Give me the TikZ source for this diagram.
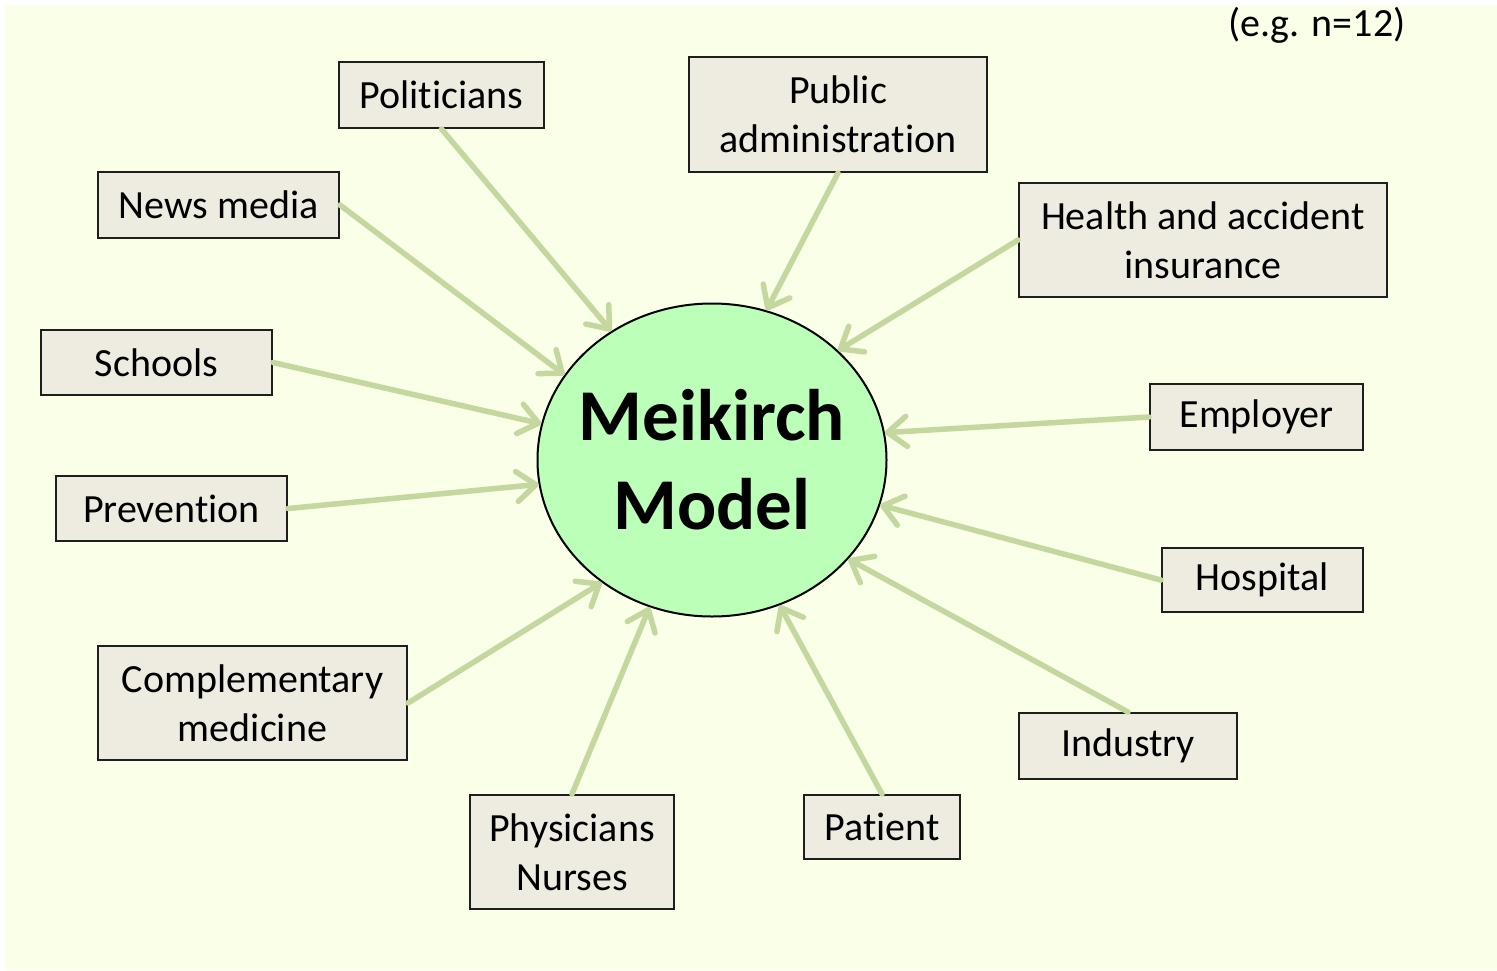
\documentclass[tikz,border=0pt]{standalone}
\usepackage{fontspec}
\setmainfont{Carlito}[Ligatures=CommonOff]
\definecolor{paper}{RGB}{250, 255, 232}
\definecolor{boxfill}{RGB}{238, 236, 225}
\definecolor{boxline}{RGB}{30, 30, 30}
\definecolor{linkgreen}{RGB}{196, 215, 158}
\definecolor{corefill}{RGB}{188, 255, 184}
\usetikzlibrary{shapes.geometric, arrows.meta, positioning, calc}

\begin{document}
\begin{tikzpicture}[x=1pt, y=-1pt,
    actor/.style={draw=boxline, line width=2pt, fill=boxfill, align=center,
      inner sep=0pt, font=\fontsize{40}{49}\selectfont},
    link/.style={linkgreen, line width=5.5pt, line cap=round,
      -{Straight Barb[length=19pt, width=30pt, round]}}]
        % Background
        \useasboundingbox (0,0) rectangle (1497,970);
        \fill[paper] (5,5) rectangle (1497,970);
        \node[font=\fontsize{40}{49}\selectfont] (note) at (1317,25) {(e.g. n=12)};

        % Centre
        \node[ellipse, draw, line width=2pt, fill=corefill, inner sep=0pt,
          minimum width=349, minimum height=313] (core) at (712,460) {};
        \node[align=center, font=\fontsize{73}{89}\selectfont\bfseries] (title) at (core) {Meikirch\\Model};

        % Actors, left side
        \node[actor, minimum width=205, minimum height=66] (pol) at (441.5,95) {Politicians};
        \node[actor, minimum width=241, minimum height=66] (news) at (218.5,205) {News media};
        \node[actor, minimum width=231, minimum height=65] (school) at (156.5,362.5) {Schools};
        \node[actor, minimum width=231, minimum height=65] (prev) at (171.5,508.5) {Prevention};
        \node[actor, minimum width=309, minimum height=114] (comp) at (252.5,703) {Complementary\\medicine};
        \node[actor, minimum width=204, minimum height=114] (phys) at (572,852) {Physicians\\Nurses};

        % Actors, right side
        \node[actor, minimum width=298, minimum height=115] (admin) at (838,114.5) {Public\\administration};
        \node[actor, minimum width=368, minimum height=114] (ins) at (1203,240) {Health and accident\\insurance};
        \node[actor, minimum width=213, minimum height=66] (empl) at (1256.5,417) {Employer};
        \node[actor, minimum width=201, minimum height=64] (hosp) at (1262.5,580) {Hospital};
        \node[actor, minimum width=218, minimum height=66] (ind) at (1128,746) {Industry};
        \node[actor, minimum width=156, minimum height=64] (pat) at (882,827) {Patient};

        % Arrows into the model
        \foreach \from/\ang in {pol.south/128, news.east/150, school.east/168,
          prev.east/188, comp.east/228, phys.north/247, pat.north/295,
          ind.north/324, hosp.west/345, empl.west/9, ins.west/41, admin.south/70}{
          \draw[link] (\from) -- (core.\ang);
        }
      \end{tikzpicture}
\end{document}
